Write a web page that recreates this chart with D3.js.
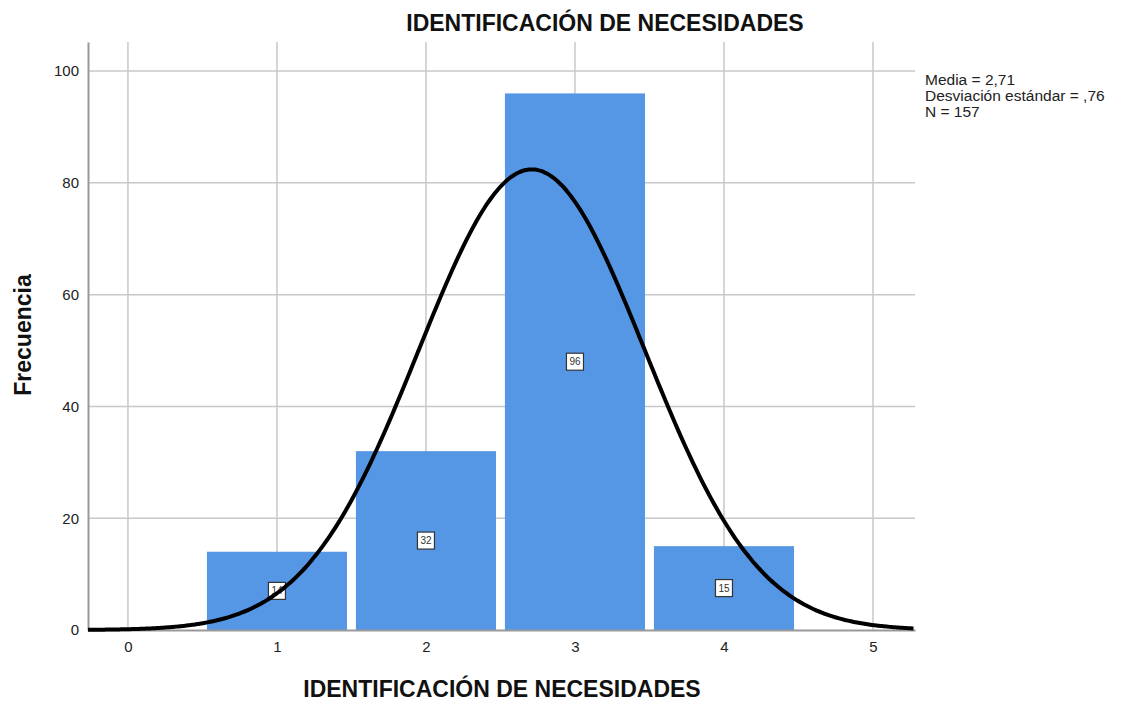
<!DOCTYPE html>
<html>
<head>
<meta charset="utf-8">
<script src="https://cdn.jsdelivr.net/npm/d3@7"></script>
<style>
    body { margin: 0; background: #fff; font-family: "Liberation Sans", Arial, sans-serif; }
    .tick text { font-size: 15px; fill: #222; font-family: "Liberation Sans", Arial, sans-serif; }
    .grid line { stroke: #c8c8c8; stroke-width: 1.5; }
    .title { font-size: 23px; font-weight: bold; fill: #111; }
    .stats { font-size: 15.5px; fill: #222; }
</style>
</head>
<body>
<div id="plot"></div>
<script>
    // data
    var categories = [1, 2, 3, 4];
    var counts = [14, 32, 96, 15];
    var xTicks = [0, 1, 2, 3, 4, 5];
    var yTicks = [0, 20, 40, 60, 80, 100];
    var statLabels = ['Media = 2,71', 'Desviación estándar = ,76', 'N = 157'];
    var mean = 2.71, sd = 0.76, n = 157;

    var width = 1121, height = 706;
    var margin = {top: 42, right: 206, bottom: 76, left: 88},
        plotWidth = width - margin.left - margin.right,
        plotHeight = height - margin.top - margin.bottom;

    var xScale = d3.scaleLinear()
        .domain([-0.268, 5.282])
        .range([0, plotWidth]);

    var yScale = d3.scaleLinear()
        .domain([0, 105.2])
        .range([plotHeight, 0]);

    var svg = d3.select('#plot')
        .append('svg')
        .attr('width', width)
        .attr('height', height);

    var g = svg.append('g')
        .attr('transform', 'translate(' + margin.left + ',' + margin.top + ')');

    // gridlines
    var grid = g.append('g').classed('grid', true);
    grid.selectAll('.vx')
        .data(xTicks)
        .enter()
        .append('line')
        .attr('x1', function (d) { return xScale(d); })
        .attr('x2', function (d) { return xScale(d); })
        .attr('y1', 0)
        .attr('y2', plotHeight);
    grid.selectAll('.hy')
        .data(yTicks.slice(1))
        .enter()
        .append('line')
        .attr('x1', 0)
        .attr('x2', plotWidth)
        .attr('y1', function (d) { return yScale(d); })
        .attr('y2', function (d) { return yScale(d); });

    // bars
    g.append('g')
        .selectAll('rect')
        .data(categories)
        .enter()
        .append('rect')
        .attr('x', function (d) { return xScale(d - 0.47); })
        .attr('width', function (d) { return xScale(d + 0.47) - xScale(d - 0.47); })
        .attr('y', function (d, i) { return yScale(counts[i]); })
        .attr('height', function (d, i) { return plotHeight - yScale(counts[i]); })
        .attr('fill', '#5596e5');

    // count labels
    var labels = g.append('g')
        .selectAll('g')
        .data(categories)
        .enter()
        .append('g')
        .attr('transform', function (d, i) {
            return 'translate(' + xScale(d) + ',' + yScale(counts[i] / 2) + ')';
        });
    labels.append('rect')
        .attr('x', -8.5)
        .attr('y', -8.5)
        .attr('width', 17)
        .attr('height', 17)
        .attr('fill', '#fff')
        .attr('stroke', '#333')
        .attr('stroke-width', 1.2);
    labels.append('text')
        .attr('text-anchor', 'middle')
        .attr('dy', '0.35em')
        .style('font-size', '10px')
        .style('fill', '#333')
        .text(function (d, i) { return counts[i]; });

    // axes
    var xAxis = d3.axisBottom(xScale).tickValues(xTicks).tickFormat(d3.format('d')).tickSize(0).tickPadding(11);
    var yAxis = d3.axisLeft(yScale).tickValues(yTicks).tickFormat(d3.format('d')).tickSize(0).tickPadding(9);

    g.append('g')
        .attr('transform', 'translate(0,' + plotHeight + ')')
        .call(xAxis)
        .call(function (s) { s.select('.domain').attr('stroke', '#999').attr('stroke-width', 2); });

    g.append('g')
        .call(yAxis)
        .call(function (s) { s.select('.domain').attr('stroke', '#999').attr('stroke-width', 2); });

    // fitted normal curve from the shown statistics
    var curveX = d3.range(xScale.domain()[0], xScale.domain()[1] + 0.001, 0.02);
    var line = d3.line()
        .x(function (d) { return xScale(d); })
        .y(function (d) {
            var z = (d - mean) / sd;
            return yScale(n / (sd * Math.sqrt(2 * Math.PI)) * Math.exp(-0.5 * z * z));
        })
        .curve(d3.curveBasis);
    g.append('path')
        .datum(curveX)
        .attr('d', line)
        .attr('fill', 'none')
        .attr('stroke', '#000')
        .attr('stroke-width', 4);

    // titles
    svg.append('text')
        .classed('title', true)
        .attr('x', 605)
        .attr('y', 31)
        .attr('text-anchor', 'middle')
        .text('IDENTIFICACIÓN DE NECESIDADES');

    svg.append('text')
        .classed('title', true)
        .attr('x', 502)
        .attr('y', 697)
        .attr('text-anchor', 'middle')
        .text('IDENTIFICACIÓN DE NECESIDADES');

    svg.append('text')
        .classed('title', true)
        .attr('transform', 'translate(31,' + 335 + ') rotate(-90)')
        .attr('text-anchor', 'middle')
        .text('Frecuencia');

    svg.append('g')
        .selectAll('text')
        .data(statLabels)
        .enter()
        .append('text')
        .classed('stats', true)
        .attr('x', 925)
        .attr('y', function (d, i) { return 85 + i * 16; })
        .text(function (d) { return d; });
</script>
</body>
</html>
